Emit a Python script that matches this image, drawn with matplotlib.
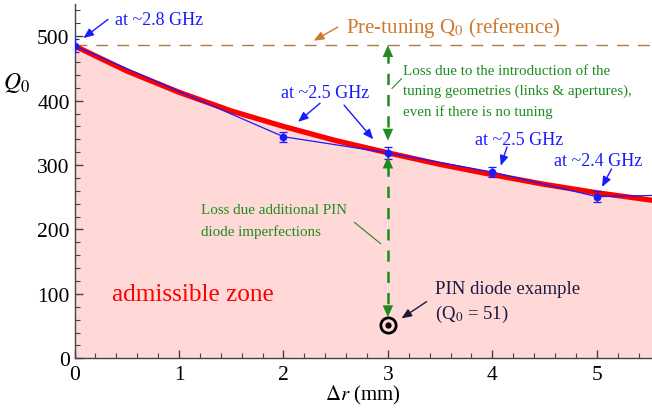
import matplotlib
matplotlib.use("Agg")
import matplotlib.pyplot as plt
from matplotlib.ticker import MultipleLocator

plt.rcParams['font.family'] = ['Liberation Serif', 'DejaVu Serif']
plt.rcParams['mathtext.fontset'] = 'stix'

# Red envelope curve
red_x = [0, 0.5, 1, 1.5, 2, 2.5, 3, 3.5, 4, 4.5, 5, 5.5, 5.6]
red_y = [485, 446, 413, 384, 360, 338, 319, 301, 285, 270, 257, 246, 244]

# Measured points (blue)
meas_x = [0, 2, 3, 4, 5]
meas_y = [485, 344, 319, 289, 251]
meas_err = [10, 8, 9, 8, 8]
tail_x = [5, 5.6]
tail_y = [251, 253]

ref_q0 = 486
pin_x, pin_q0 = 3, 51

xticks = [0, 1, 2, 3, 4, 5]
yticks = [0, 100, 200, 300, 400, 500]

fig = plt.figure(figsize=(6.52, 4.14), dpi=100)
ax = fig.add_axes([0.1143, 0.132, 0.886, 0.856])
ax.set_xlim(0, 5.53)
ax.set_ylim(0, 550)

ax.fill_between(red_x, red_y, 0, color='#ffd8d8', lw=0, zorder=1)
ax.plot(red_x, red_y, color='red', lw=3.8, zorder=3, solid_capstyle='butt')
ax.plot(meas_x + tail_x[1:], meas_y + tail_y[1:], color='#1a1aff', lw=0.9, zorder=4)
ax.errorbar(meas_x, meas_y, yerr=meas_err, fmt='o', color='#1a1aff', ms=4.5,
            elinewidth=0.9, capsize=3, capthick=0.9, zorder=5)

ax.axhline(ref_q0, color='#b07a40', lw=1.0, dashes=(8.5, 6.5), zorder=2)

# PIN diode marker
ax.plot([pin_x], [pin_q0], 'o', ms=11, mfc='none', mec='black', mew=2.0, zorder=6)
ax.plot([pin_x], [pin_q0], 'o', ms=3.5, color='black', zorder=6)

green = '#1e8c1e'
head = dict(arrowstyle='-|>,head_width=0.38,head_length=0.85', color=green, lw=0, shrinkA=0, shrinkB=0)
ax.plot([3, 3], [475, 345], color=green, lw=1.8, dashes=(4.5, 4), zorder=5)
ax.annotate('', xy=(3, ref_q0), xytext=(3, 468), arrowprops=head, zorder=6)
ax.annotate('', xy=(3, 338), xytext=(3, 356), arrowprops=head, zorder=6)
ax.plot([3, 3], [300, 80], color=green, lw=1.8, dashes=(4.5, 4), zorder=5)
ax.annotate('', xy=(3, 313), xytext=(3, 295), arrowprops=head, zorder=6)
ax.annotate('', xy=(3, 64), xytext=(3, 82), arrowprops=head, zorder=6)

ax.text(3.14, 415, 'Loss due to the introduction of the\ntuning geometries (links & apertures),\neven if there is no tuning',
        color=green, fontsize=10.8, va='center', ha='left', linespacing=1.68)
ax.plot([3.13, 3.04], [434, 419], color=green, lw=0.8)
ax.text(1.21, 214, 'Loss due additional PIN\ndiode imperfections', color=green, fontsize=10.8,
        va='center', ha='left', linespacing=1.68)
ax.plot([2.68, 2.93], [211, 178], color=green, lw=0.8)

blue = '#1a1aff'
arw = dict(arrowstyle='-|>,head_width=0.25,head_length=0.6', color=blue, lw=1.0, shrinkA=0, shrinkB=0)
ax.text(0.39, 526, 'at ~2.8 GHz', color=blue, fontsize=13, va='center', ha='left')
ax.annotate('', xy=(0.085, 497), xytext=(0.32, 526), arrowprops=arw)
ax.text(2.40, 412, 'at ~2.5 GHz', color=blue, fontsize=13, va='center', ha='center')
ax.annotate('', xy=(2.14, 367), xytext=(2.35, 396), arrowprops=arw)
ax.annotate('', xy=(2.86, 340), xytext=(2.58, 393), arrowprops=arw)
ax.text(4.26, 339, 'at ~2.5 GHz', color=blue, fontsize=13, va='center', ha='center')
ax.annotate('', xy=(4.08, 299), xytext=(4.14, 328), arrowprops=arw)
ax.text(5.01, 307, 'at ~2.4 GHz', color=blue, fontsize=13, va='center', ha='center')
ax.annotate('', xy=(5.05, 266), xytext=(5.14, 294), arrowprops=arw)

brown = '#cc7a2e'
ax.text(2.60, 514, r'Pre-tuning Q$_{\mathrm{0}}$ (reference)', color=brown, fontsize=15, va='center', ha='left')
ax.annotate('', xy=(2.29, 493), xytext=(2.52, 514),
            arrowprops=dict(arrowstyle='-|>,head_width=0.25,head_length=0.6', color=brown, lw=1.0, shrinkA=0, shrinkB=0))

navy = '#1a1a40'
ax.text(3.45, 109, 'PIN diode example', color=navy, fontsize=13.5, va='center', ha='left')
ax.text(3.45, 69, r'(Q$_{\mathrm{0}}$ = 51)', color=navy, fontsize=13.5, va='center', ha='left')
ax.annotate('', xy=(3.13, 62), xytext=(3.37, 88),
            arrowprops=dict(arrowstyle='-|>,head_width=0.25,head_length=0.6', color=navy, lw=1.0, shrinkA=0, shrinkB=0))

ax.text(0.36, 100, 'admissible zone', color='red', fontsize=18.2, va='center', ha='left')

# axes styling
for s in ['top', 'right']:
    ax.spines[s].set_visible(False)
for s in ['left', 'bottom']:
    ax.spines[s].set_color('#444444')
    ax.spines[s].set_linewidth(1.0)
ax.set_xticks(xticks)
ax.set_yticks(yticks)
ax.xaxis.set_minor_locator(MultipleLocator(0.2))
ax.yaxis.set_minor_locator(MultipleLocator(20))
ax.tick_params(which='both', direction='in', colors='#444444', labelcolor='black', labelsize=15.5)
ax.tick_params(which='major', length=6, width=1.0)
ax.tick_params(which='minor', length=3.5, width=0.8)
ax.tick_params(axis='x', pad=5)
ax.set_xlabel(r'$\Delta r$ (mm)', fontsize=15, labelpad=-1)
ax.text(-0.077, 0.78, r'$Q_0$', transform=ax.transAxes, fontsize=17, ha='right', va='center')

fig.savefig('out.png', dpi=100)
